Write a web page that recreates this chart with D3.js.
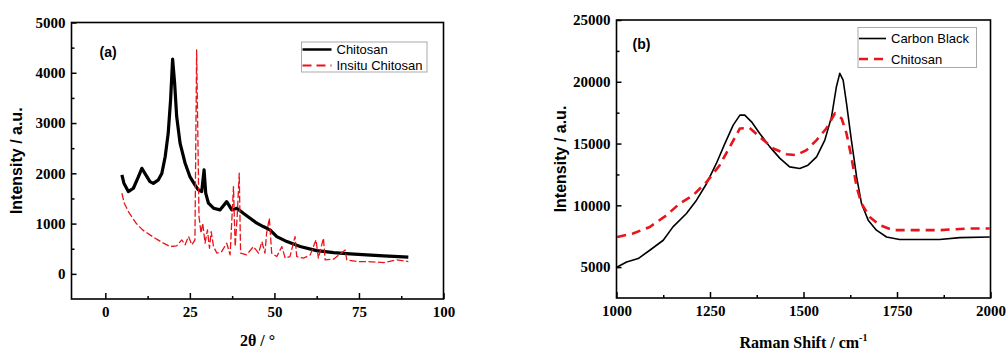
<!DOCTYPE html>
<html>
<head>
<meta charset="utf-8">
<script src="https://cdn.jsdelivr.net/npm/d3@7"></script>
<style>
  body { margin: 0; background: #fff; }
  svg { display: block; }
  .tick text { font-family: "Liberation Serif", serif; font-weight: bold; font-size: 15px; fill: #000; }
  .axis path, .axis line { stroke: #000; stroke-width: 1.5; }
  .ytitle { font-family: "Liberation Sans", Arial, sans-serif; font-weight: bold; font-size: 16px; }
  .xtitle { font-family: "Liberation Serif", serif; font-weight: bold; font-size: 16px; }
  .tag { font-family: "Liberation Sans", Arial, sans-serif; font-weight: bold; font-size: 14px; }
  .legend text { font-family: "Liberation Sans", Arial, sans-serif; font-size: 13px; }
</style>
</head>
<body>
<svg id="chart" width="1007" height="350"></svg>
<script>
// ---- panel (a): XRD ----
const xrdAngle = [4.9, 5.5, 6.8, 8.3, 9.8, 10.8, 11.7, 13.2, 14.2, 15.7, 16.7, 17.7, 18.6, 19.3, 19.9, 20.5, 21.1, 22.1, 23.6, 25, 26.5, 27.5, 28.5, 29.2, 29.7, 30.5, 32, 33.9, 35.9, 37.4, 38.9, 40.8, 42.8, 44.8, 46.7, 48.7, 50.7, 53.7, 57.6, 62.5, 67.5, 72.4, 77.3, 82.3, 89.6];
const chitosanXrd = [1968, 1803, 1636, 1703, 1934, 2100, 2000, 1835, 1800, 1870, 1995, 2330, 2800, 3460, 4270, 3790, 3130, 2600, 2200, 1935, 1770, 1670, 1636, 2070, 1600, 1405, 1306, 1272, 1437, 1272, 1306, 1206, 1107, 1008, 941, 875, 742, 642, 543, 463, 423, 398, 378, 358, 332];

const insituAngle = [4.9, 5.6, 7.1, 9.1, 11, 13.2, 15.2, 17.2, 19.2, 21.1, 22.6, 23.6, 24.6, 25.6, 26.5, 27.0, 27.7, 28.3, 28.8, 29.5, 30.2, 30.8, 31.3, 32, 33, 34.4, 35.9, 36.9, 37.9, 38.4, 39, 39.6, 40, 41.8, 43.8, 45.3, 46.3, 47.2, 47.7, 48.5, 49.2, 50.7, 52.2, 53.2, 54.6, 56.1, 56.6, 58.6, 60.6, 62.3, 63, 64.5, 65, 67.5, 70.9, 71.4, 74.4, 77.3, 82.3, 86.2, 89.6];
const insituXrd = [1604, 1405, 1206, 1008, 875, 775, 690, 610, 543, 557, 676, 577, 742, 577, 676, 4453, 1140, 809, 1008, 610, 875, 510, 841, 543, 411, 443, 610, 378, 1736, 543, 1140, 2002, 411, 378, 543, 411, 642, 411, 809, 1107, 411, 344, 543, 312, 344, 742, 344, 312, 378, 676, 312, 710, 278, 292, 477, 278, 245, 245, 225, 278, 245];

const xrdXTicks = [0, 25, 50, 75, 100];
const xrdYTicks = [0, 1000, 2000, 3000, 4000, 5000];
const xrdLegend = ["Chitosan", "Insitu Chitosan"];

// ---- panel (b): Raman ----
const ramanShift = [1002, 1027, 1058, 1089, 1125, 1151, 1187, 1214, 1241, 1267, 1290, 1312, 1330, 1343, 1361, 1383, 1410, 1437, 1463, 1490, 1512, 1535, 1557, 1575, 1588, 1597, 1606, 1615, 1628, 1642, 1655, 1673, 1695, 1722, 1757, 1820, 1864, 1918, 1998];
const carbonBlack = [5010, 5420, 5690, 6365, 7175, 8255, 9340, 10420, 11770, 13390, 15010, 16490, 17300, 17300, 16760, 15820, 14730, 13800, 13110, 12980, 13250, 13920, 15280, 17160, 19600, 20680, 20140, 18250, 15280, 12300, 10150, 8800, 7990, 7440, 7230, 7230, 7230, 7390, 7440];

const ramanShiftChi = [1002, 1044, 1089, 1134, 1169, 1205, 1241, 1276, 1303, 1330, 1356, 1383, 1419, 1455, 1481, 1508, 1535, 1561, 1584, 1602, 1615, 1628, 1642, 1655, 1677, 1704, 1740, 1775, 1864, 1936, 1998];
const chitosanRaman = [7440, 7720, 8250, 9200, 10150, 10820, 11900, 13250, 14730, 16220, 16270, 15540, 14600, 14140, 14060, 14470, 15280, 16220, 17440, 17030, 15820, 13920, 11490, 10150, 9060, 8390, 7990, 7990, 7990, 8120, 8120];

const ramanXTicks = [1000, 1250, 1500, 1750, 2000];
const ramanYTicks = [5000, 10000, 15000, 20000, 25000];
const ramanLegend = ["Carbon Black", "Chitosan"];

const svg = d3.select('#chart');
const fmt = d3.format('d');

function panel(opt) {
  const { left, top, width, height } = opt.box;
  const g = svg.append('g').attr('transform', `translate(${left},${top})`);
  const x = d3.scaleLinear().domain(opt.xDomain).range([0, width]);
  const y = d3.scaleLinear().domain(opt.yDomain).range([height, 0]);

  // minor ticks first
  g.append('g').attr('class', 'axis')
    .attr('transform', `translate(0,${height})`)
    .call(d3.axisBottom(x).tickValues(opt.xMinor).tickSize(-3).tickSizeOuter(0).tickFormat(''))
    .call(s => s.select('.domain').remove());
  g.append('g').attr('class', 'axis')
    .call(d3.axisLeft(y).tickValues(opt.yMinor).tickSize(-3).tickSizeOuter(0).tickFormat(''))
    .call(s => s.select('.domain').remove());

  g.append('g').attr('class', 'axis')
    .attr('transform', `translate(0,${height})`)
    .call(d3.axisBottom(x).tickValues(opt.xTicks).tickSize(-6).tickSizeOuter(0).tickPadding(7).tickFormat(fmt))
    .call(s => s.select('.domain').remove());
  g.append('g').attr('class', 'axis')
    .call(d3.axisLeft(y).tickValues(opt.yTicks).tickSize(-5).tickSizeOuter(0).tickPadding(6).tickFormat(fmt))
    .call(s => s.select('.domain').remove());

  // frame
  g.append('rect').attr('width', width).attr('height', height)
    .attr('fill', 'none').attr('stroke', '#000').attr('stroke-width', 1.6);

  const clip = 'clip' + opt.tag;
  g.append('clipPath').attr('id', clip).append('rect').attr('width', width).attr('height', height);

  opt.series.forEach(s => {
    const pts = s.xs.map((v, i) => [v, s.ys[i]]);
    g.append('path')
      .attr('clip-path', `url(#${clip})`)
      .attr('d', d3.line().x(d => x(d[0])).y(d => y(d[1]))(pts))
      .attr('fill', 'none')
      .attr('stroke', s.color)
      .attr('stroke-width', s.width)
      .attr('stroke-dasharray', s.dash || null)
      .attr('stroke-linejoin', 'round');
  });

  g.append('text').attr('class', 'tag').attr('x', opt.tagPos[0]).attr('y', opt.tagPos[1]).text(`(${opt.tag})`);

  // legend
  const lg = g.append('g').attr('class', 'legend').attr('transform', `translate(${opt.legend.x},${opt.legend.y})`);
  lg.append('rect').attr('width', opt.legend.w).attr('height', opt.legend.h)
    .attr('fill', '#fff').attr('stroke', '#aaa').attr('stroke-width', 1);
  opt.series.forEach((s, i) => {
    const cy = opt.legend.row0 + i * opt.legend.dy;
    lg.append('line').attr('x1', 1).attr('x2', opt.legend.sample).attr('y1', cy).attr('y2', cy)
      .attr('stroke', s.color).attr('stroke-width', s.legendWidth || s.width)
      .attr('stroke-dasharray', s.legendDash || null);
    lg.append('text').attr('x', opt.legend.sample + 5).attr('y', cy).attr('dy', '0.35em').text(s.name);
  });

  // titles
  g.append('text').attr('class', 'ytitle')
    .attr('transform', `translate(${opt.yTitleX},${height / 2}) rotate(-90)`)
    .attr('text-anchor', 'middle').attr('dy', '0.35em').text('Intensity / a.u.');
  const xt = g.append('text').attr('class', 'xtitle')
    .attr('x', width / 2 + (opt.xTitleShift || 0)).attr('y', opt.xTitleY).attr('text-anchor', 'middle');
  opt.xTitle(xt);
}

panel({
  tag: 'a',
  box: { left: 71.5, top: 22.5, width: 372, height: 276.5 },
  xDomain: [-10, 100], yDomain: [-500, 5000],
  xTicks: xrdXTicks, yTicks: xrdYTicks,
  xMinor: [12.5, 37.5, 62.5, 87.5],
  yMinor: [500, 1500, 2500, 3500, 4500],
  series: [
    { name: xrdLegend[0], xs: xrdAngle, ys: chitosanXrd, color: '#000', width: 3.2, legendWidth: 2.5 },
    { name: xrdLegend[1], xs: insituAngle, ys: insituXrd, color: '#e8141b', width: 1.3, dash: '7,2.5', legendWidth: 1.8, legendDash: '9,5' }
  ],
  tagPos: [28, 34],
  legend: { x: 230, y: 19.5, w: 125.5, h: 30, row0: 7.5, dy: 16, sample: 30 },
  yTitleX: -55,
  xTitleY: 323,
  xTitle: t => t.text('2θ / °')
});

panel({
  tag: 'b',
  box: { left: 616.5, top: 20, width: 374, height: 278 },
  xDomain: [1000, 2000], yDomain: [2500, 25000],
  xTicks: ramanXTicks, yTicks: ramanYTicks,
  xMinor: [1125, 1375, 1625, 1875],
  yMinor: [7500, 12500, 17500, 22500],
  series: [
    { name: ramanLegend[0], xs: ramanShift, ys: carbonBlack, color: '#000', width: 1.6 },
    { name: ramanLegend[1], xs: ramanShiftChi, ys: chitosanRaman, color: '#e8141b', width: 2.6, dash: '9,6', legendDash: '9,6' }
  ],
  tagPos: [16, 29],
  legend: { x: 241.5, y: 7.5, w: 118.5, h: 40, row0: 11, dy: 20.5, sample: 28 },
  yTitleX: -56,
  xTitleY: 328,
  xTitle: t => {
    t.append('tspan').text('Raman Shift / cm');
    t.append('tspan').attr('dy', -7).attr('font-size', '10px').text('-1');
  }
});
</script>
</body>
</html>
